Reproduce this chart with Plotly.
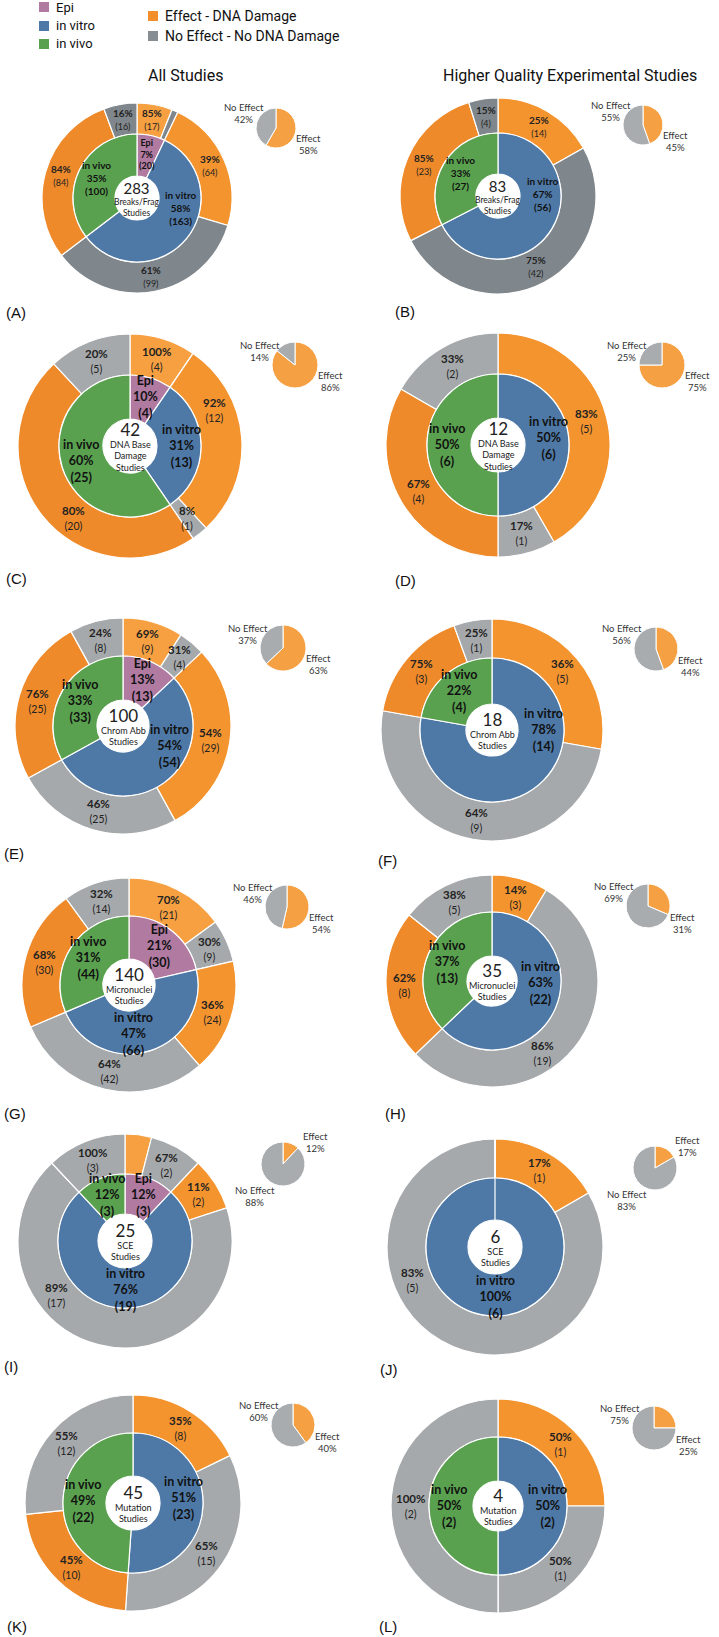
import math
import plotly.graph_objects as go

# ---------------- data ----------------
panel_ids = ["A", "B", "C", "D", "E", "F", "G", "H", "I", "J", "K", "L"]
center_titles = ["Breaks/Frag<br>Studies", "Breaks/Frag<br>Studies",
                 "DNA Base<br>Damage<br>Studies", "DNA Base<br>Damage<br>Studies",
                 "Chrom Abb<br>Studies", "Chrom Abb<br>Studies",
                 "Micronuclei<br>Studies", "Micronuclei<br>Studies",
                 "SCE<br>Studies", "SCE<br>Studies",
                 "Mutation<br>Studies", "Mutation<br>Studies"]
epi_effect     = [17, 0, 4, 0, 9, 0, 21, 0, 1, 0, 0, 0]
epi_noeffect   = [3, 0, 0, 0, 4, 0, 9, 0, 2, 0, 0, 0]
vitro_effect   = [64, 14, 12, 5, 29, 5, 24, 3, 2, 1, 8, 1]
vitro_noeffect = [99, 42, 1, 1, 25, 9, 42, 19, 17, 5, 15, 1]
vivo_effect    = [84, 23, 20, 4, 25, 3, 30, 8, 0, 0, 10, 0]
vivo_noeffect  = [16, 4, 5, 2, 8, 1, 14, 5, 3, 0, 12, 2]
type_names = ["Epi", "in vitro", "in vivo"]
column_titles = ["All Studies", "Higher Quality Experimental Studies"]

# ---------------- layout (pixel geometry) ----------------
W, H = 719, 1637
# cx, cy, R_outer, R_inner_ring, R_hole, pie_cx, pie_cy, pie_r, letter_x, letter_y
geom = {
    "A": (137, 198, 95, 64, 22, 276, 128, 20, 4, 313),
    "B": (498, 196, 98, 63, 22, 643, 125, 20, 393, 312),
    "C": (130, 446, 112, 71, 27, 295, 365, 23, 4, 578),
    "D": (498, 445, 112, 71, 27, 662, 365, 23, 393, 581),
    "E": (123, 726, 108, 70, 26, 283, 648, 23, 2, 853),
    "F": (492, 730, 111, 72, 26, 656, 649, 22, 376, 860),
    "G": (129, 985, 107, 69, 26, 287, 907, 22, 2, 1113),
    "H": (492, 981, 106, 69, 25, 648, 906, 22, 383, 1113),
    "I": (125, 1241, 107, 67, 27, 283, 1164, 22, 2, 1366),
    "J": (495, 1247, 108, 69, 27, 655, 1168, 22, 378, 1369),
    "K": (133, 1503, 108, 70, 27, 293, 1425, 22, 5, 1626),
    "L": (498, 1506, 107, 69, 25, 654, 1428, 22, 377, 1626),
}
hidden_outer = {("A", 1), ("I", 0)}
# label placement angles (degrees clockwise from 12 o'clock) where the
# reference places a label away from the slice's middle
outer_label_angle = {("C", 2): 67, ("C", 4): 218, ("J", 3): 248,
                     ("I", 3): 232, ("H", 3): 145}
inner_label_angle = {("A", 1): 103, ("B", 1): 87, ("D", 1): 82, ("E", 1): 113,
                     ("F", 1): 90, ("G", 1): 175, ("H", 1): 92, ("K", 1): 84}

C_EPI, C_VITRO, C_VIVO = "#b07aa1", "#4e79a7", "#59a14f"
OR_EPI, OR_VITRO, OR_VIVO = "#f6a041", "#f4942f", "#ef8a2a"
GRAY_DARK, GRAY = "#80878c", "#a6a9ab"
LEG_OR, LEG_GRAY = "#f28e2b", "#878e93"
LBL_FONT = "Lato"


def px(x):
    return x / W


def py(y):
    return 1 - y / H


def polar(cx, cy, r, theta):
    t = math.radians(theta)
    return cx + r * math.sin(t), cy - r * math.cos(t)


def note(x, y, text, font, xanchor="center", yanchor="middle"):
    return dict(x=px(x), y=py(y), xref="paper", yref="paper", showarrow=False,
                xanchor=xanchor, yanchor=yanchor, text=text, font=font)


fig = go.Figure()
ann = []
shapes = []

for i, pid in enumerate(panel_ids):
    cx, cy, R, Rm, Rh, pcx, pcy, pr, lx, ly = geom[pid]
    small = pid in ("A", "B")
    gray = GRAY_DARK if small else GRAY
    inner_vals = [epi_effect[i] + epi_noeffect[i],
                  vitro_effect[i] + vitro_noeffect[i],
                  vivo_effect[i] + vivo_noeffect[i]]
    outer_vals = [epi_effect[i], epi_noeffect[i], vitro_effect[i],
                  vitro_noeffect[i], vivo_effect[i], vivo_noeffect[i]]
    total = sum(inner_vals)
    outer_cols = [OR_EPI, gray, OR_VITRO, gray, OR_VIVO, gray]
    outer_labels = ["Epi Effect", "Epi No Effect", "in vitro Effect",
                    "in vitro No Effect", "in vivo Effect", "in vivo No Effect"]

    fig.add_trace(go.Pie(
        values=outer_vals, labels=outer_labels, sort=False, direction="clockwise",
        rotation=0, hole=Rm / R, textinfo="none", showlegend=False,
        marker=dict(colors=outer_cols, line=dict(color="white", width=1.2)),
        domain=dict(x=[px(cx - R), px(cx + R)], y=[py(cy + R), py(cy - R)])))
    fig.add_trace(go.Pie(
        values=inner_vals, labels=type_names, sort=False, direction="clockwise",
        rotation=0, hole=Rh / Rm, textinfo="none", showlegend=False,
        marker=dict(colors=[C_EPI, C_VITRO, C_VIVO], line=dict(color="white", width=1.2)),
        domain=dict(x=[px(cx - Rm), px(cx + Rm)], y=[py(cy + Rm), py(cy - Rm)])))

    fs_out = 10 if small else 11.5
    fs_in = 10 if small else 12.5
    # outer labels
    cum = 0
    for k, v in enumerate(outer_vals):
        if v > 0 and (pid, k) not in hidden_outer:
            grp = inner_vals[k // 2]
            mid = outer_label_angle.get((pid, k), (cum + v / 2) / total * 360)
            x, y = polar(cx, cy, (Rm + R) / 2, mid)
            ann.append(note(x, y,
                            f"<b>{round(v / grp * 100)}%</b><br><span style='font-size:{fs_out - 1}px'>({v})</span>",
                            dict(family=LBL_FONT, size=fs_out, color="#222222")))
        cum += v
    # inner labels
    cum = 0
    for k, v in enumerate(inner_vals):
        if v > 0:
            mid = inner_label_angle.get((pid, k), (cum + v / 2) / total * 360)
            x, y = polar(cx, cy, (Rh + Rm) / 2 + 2, mid)
            fs = fs_in - 1 if (v / total < 0.1 and small) else fs_in
            ann.append(note(x, y,
                            f"<b>{type_names[k]}<br>{round(v / total * 100)}%<br>({v})</b>",
                            dict(family=LBL_FONT, size=fs, color="#111111")))
        cum += v
    # center text
    ann.append(note(cx, cy,
                    f"<span style='font-size:{15 if small else 17}px'>{total}</span><br>{center_titles[i]}",
                    dict(family=LBL_FONT, size=8.5 if small else 9, color="#222222")))

    # small overall pie
    eff = epi_effect[i] + vitro_effect[i] + vivo_effect[i]
    noeff = total - eff
    fig.add_trace(go.Pie(
        values=[eff, noeff], labels=["Effect", "No Effect"], sort=False,
        direction="clockwise", rotation=0, textinfo="none", showlegend=False,
        marker=dict(colors=["#f5a043", "#a9acaf"], line=dict(color="white", width=1)),
        domain=dict(x=[px(pcx - pr), px(pcx + pr)], y=[py(pcy + pr), py(pcy - pr)])))
    pe = round(eff / total * 100)
    pn = 100 - pe
    if pe >= 20:
        e_off, n_off = (pr + 12, 17), (-pr - 12, -14)
    else:
        e_off, n_off = (pr + 10, -22), (-pr - 6, 32)
    ann.append(note(pcx + e_off[0], pcy + e_off[1], f"Effect<br>{pe}%",
                    dict(family=LBL_FONT, size=9.5, color="#333333")))
    ann.append(note(pcx + n_off[0], pcy + n_off[1], f"No Effect<br>{pn}%",
                    dict(family=LBL_FONT, size=9.5, color="#333333")))

    # panel letter
    ann.append(note(lx, ly, f"({pid})",
                    dict(family="Liberation Sans", size=15, color="#111111"),
                    xanchor="left"))

# column titles
ann.append(note(185, 75, column_titles[0], dict(family="Roboto", size=16, color="#111111")))
ann.append(note(570, 75, column_titles[1], dict(family="Roboto", size=16, color="#111111")))

# legend
legend_items = [(type_names[0], C_EPI, 39, 7), (type_names[1], C_VITRO, 39, 26),
                (type_names[2], C_VIVO, 39, 44),
                ("Effect - DNA Damage", LEG_OR, 148, 16),
                ("No Effect - No DNA Damage", LEG_GRAY, 148, 36)]
for name, col, x0, yc in legend_items:
    shapes.append(dict(type="rect", xref="paper", yref="paper",
                       x0=px(x0), x1=px(x0 + 10), y0=py(yc + 5), y1=py(yc - 5),
                       fillcolor=col, line=dict(width=0)))
    ann.append(note(x0 + 15, yc, name,
                    dict(family="Roboto", size=13 if x0 < 100 else 14, color="#111111"),
                    xanchor="left"))

fig.update_layout(width=W, height=H, margin=dict(l=0, r=0, t=0, b=0),
                  paper_bgcolor="white", plot_bgcolor="white",
                  annotations=ann, shapes=shapes)
fig.write_html("out.html", config={"displayModeBar": False},
               post_script="document.body.style.margin='0px';document.body.style.overflow='hidden';")
